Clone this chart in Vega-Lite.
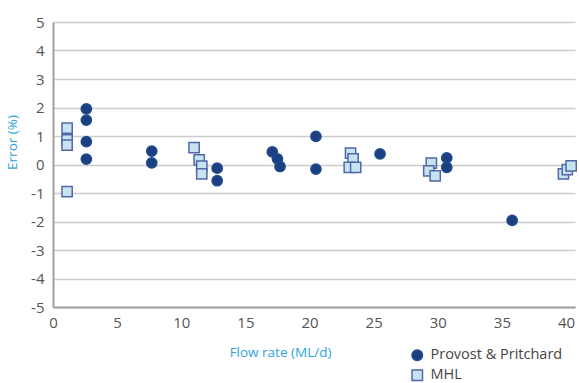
{
  "$schema": "https://vega.github.io/schema/vega-lite/v6.json",
  "width": 522,
  "height": 285,
  "autosize": {"type": "none"},
  "padding": {"left": 53, "top": 22, "right": 4, "bottom": 76},
  "background": "white",
  "config": {
    "view": {"stroke": null},
    "font": "Open Sans"
  },
  "data": {
    "values": [
      {"flow": 2.6, "error": 1.95, "series": "Provost & Pritchard"},
      {"flow": 2.6, "error": 1.56, "series": "Provost & Pritchard"},
      {"flow": 2.6, "error": 0.80, "series": "Provost & Pritchard"},
      {"flow": 2.6, "error": 0.19, "series": "Provost & Pritchard"},
      {"flow": 7.7, "error": 0.47, "series": "Provost & Pritchard"},
      {"flow": 7.7, "error": 0.06, "series": "Provost & Pritchard"},
      {"flow": 12.8, "error": -0.13, "series": "Provost & Pritchard"},
      {"flow": 12.8, "error": -0.57, "series": "Provost & Pritchard"},
      {"flow": 17.1, "error": 0.44, "series": "Provost & Pritchard"},
      {"flow": 17.5, "error": 0.2, "series": "Provost & Pritchard"},
      {"flow": 17.7, "error": -0.07, "series": "Provost & Pritchard"},
      {"flow": 20.5, "error": 0.99, "series": "Provost & Pritchard"},
      {"flow": 20.5, "error": -0.16, "series": "Provost & Pritchard"},
      {"flow": 25.5, "error": 0.37, "series": "Provost & Pritchard"},
      {"flow": 30.7, "error": 0.23, "series": "Provost & Pritchard"},
      {"flow": 30.7, "error": -0.1, "series": "Provost & Pritchard"},
      {"flow": 35.8, "error": -1.96, "series": "Provost & Pritchard"},
      {"flow": 1.1, "error": 1.28, "series": "MHL"},
      {"flow": 1.1, "error": 0.86, "series": "MHL"},
      {"flow": 1.1, "error": 0.68, "series": "MHL"},
      {"flow": 1.1, "error": -0.95, "series": "MHL"},
      {"flow": 11.0, "error": 0.59, "series": "MHL"},
      {"flow": 11.4, "error": 0.16, "series": "MHL"},
      {"flow": 11.6, "error": -0.06, "series": "MHL"},
      {"flow": 11.6, "error": -0.33, "series": "MHL"},
      {"flow": 23.2, "error": 0.40, "series": "MHL"},
      {"flow": 23.4, "error": 0.2, "series": "MHL"},
      {"flow": 23.1, "error": -0.1, "series": "MHL"},
      {"flow": 23.6, "error": -0.1, "series": "MHL"},
      {"flow": 29.5, "error": 0.05, "series": "MHL"},
      {"flow": 29.3, "error": -0.22, "series": "MHL"},
      {"flow": 29.8, "error": -0.4, "series": "MHL"},
      {"flow": 39.8, "error": -0.33, "series": "MHL"},
      {"flow": 40.1, "error": -0.18, "series": "MHL"},
      {"flow": 40.4, "error": -0.05, "series": "MHL"}
    ]
  },
  "mark": {"type": "point", "filled": true, "opacity": 1, "size": 105, "strokeWidth": 1.5},
  "encoding": {
    "x": {
      "field": "flow",
      "type": "quantitative",
      "scale": {"domain": [0, 40.7], "nice": false, "zero": false},
      "axis": {
        "title": "Flow rate (ML/d)",
        "values": [0, 5, 10, 15, 20, 25, 30, 35, 40],
        "grid": false,
        "ticks": false,
        "domainColor": "#a0a0a0",
        "domainWidth": 2,
        "labelFontSize": 15,
        "labelColor": "#555555",
        "labelPadding": 8,
        "labelFlush": false,
        "titleColor": "#2ea3dc",
        "titleFontSize": 13.5,
        "titleFontWeight": "normal",
        "titleX": 227,
        "titleY": 45,
        "titleAnchor": "middle",
        "titleAlign": "center",
        "titleBaseline": "middle"
      }
    },
    "y": {
      "field": "error",
      "type": "quantitative",
      "scale": {"domain": [-5, 5], "nice": false},
      "axis": {
        "title": "Error (%)",
        "values": [-5, -4, -3, -2, -1, 0, 1, 2, 3, 4, 5],
        "labelExpr": "'' + datum.value",
        "grid": true,
        "gridColor": "#cccccc",
        "gridWidth": 1.5,
        "ticks": false,
        "domainColor": "#a0a0a0",
        "domainWidth": 2,
        "labelFontSize": 15,
        "labelColor": "#555555",
        "labelPadding": 9,
        "labelFlush": false,
        "titleColor": "#2ea3dc",
        "titleFontSize": 13.5,
        "titleFontWeight": "normal",
        "titleX": -41,
        "titleY": 120,
        "titleAngle": -90,
        "titleAlign": "center",
        "titleBaseline": "middle"
      }
    },
    "color": {
      "field": "series",
      "type": "nominal",
      "scale": {"domain": ["Provost & Pritchard", "MHL"], "range": ["#1c3f7f", "#c7e3f0"]},
      "legend": {
        "title": null,
        "orient": "none",
        "legendX": 357,
        "legendY": 326,
        "labelFontSize": 14.5,
        "labelColor": "#444444",
        "symbolSize": 110,
        "rowPadding": 3,
        "labelOffset": 6
      }
    },
    "stroke": {
      "field": "series",
      "type": "nominal",
      "scale": {"domain": ["Provost & Pritchard", "MHL"], "range": ["#1f4a8f", "#5068a8"]},
      "legend": null
    },
    "shape": {
      "field": "series",
      "type": "nominal",
      "scale": {"domain": ["Provost & Pritchard", "MHL"], "range": ["circle", "square"]},
      "legend": null
    }
  }
}
